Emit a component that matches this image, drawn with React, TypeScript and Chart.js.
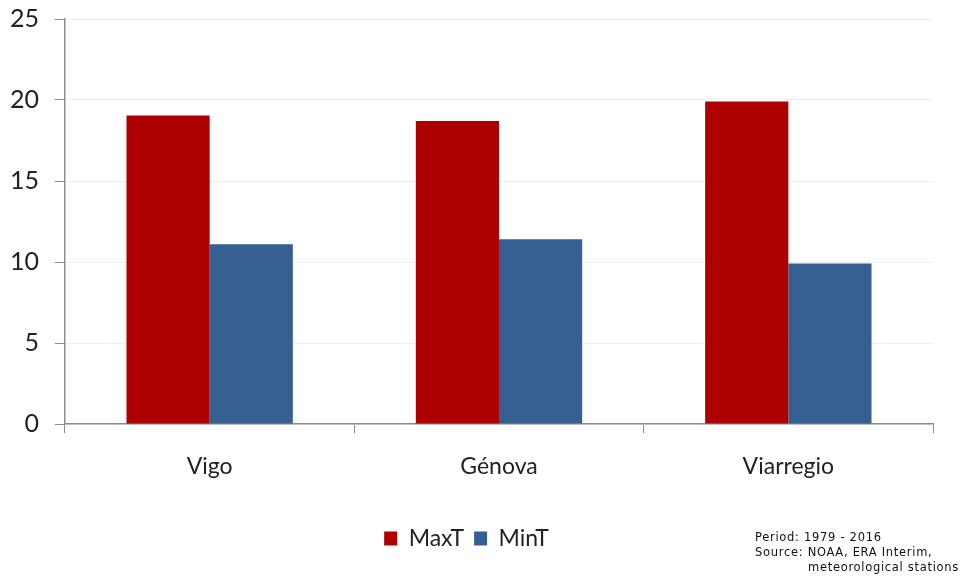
import React, { useEffect, useRef } from "react";
import { Chart, registerables } from "chart.js";

Chart.register(...registerables);

const categories = ["Vigo", "Génova", "Viarregio"];
const maxT = [19.05, 18.7, 19.9];
const minT = [11.1, 11.4, 9.9];
const seriesNames = ["MaxT", "MinT"];
const yTicks = [0, 5, 10, 15, 20, 25];
const sourceLines = ["Period: 1979 - 2016", "Source: NOAA, ERA Interim,", "meteorological stations"];

export default function App() {
  const ref = useRef<HTMLCanvasElement | null>(null);

  useEffect(() => {
    if (!ref.current) return;
    const font = "Lato, 'Open Sans', sans-serif";
    const chart = new Chart(ref.current, {
      type: "bar",
      data: {
        labels: categories,
        datasets: [
          { label: seriesNames[0], data: maxT, backgroundColor: "#ad0000", borderWidth: 0 },
          { label: seriesNames[1], data: minT, backgroundColor: "#376092", borderWidth: 0 },
        ],
      },
      options: {
        responsive: false,
        animation: false,
        layout: { padding: { top: 19, right: 28, left: 0, bottom: 16 } },
        datasets: { bar: { categoryPercentage: 0.575, barPercentage: 1 } },
        plugins: {
          tooltip: { enabled: false },
          legend: {
            position: "bottom",
            labels: {
              font: { family: font, size: 23 },
              color: "#222222",
              boxWidth: 13,
              boxHeight: 14,
              padding: 10,
            },
          },
        },
        scales: {
          x: {
            afterFit: (s: any) => { s.height = 93; s.paddingLeft = 0; s.paddingRight = 0; },
            grid: { drawOnChartArea: false, drawTicks: true, tickLength: 9, tickColor: "#8c8c8c", offset: true },
            border: { color: "#8c8c8c", width: 1.5 },
            ticks: { font: { family: font, size: 23 }, color: "#222222", padding: 20 },
          },
          y: {
            min: 0,
            max: 25,
            afterFit: (s: any) => { s.width = 65; s.paddingTop = 0; s.paddingBottom = 0; },
            afterBuildTicks: (s: any) => { s.ticks = yTicks.map((v) => ({ value: v })); },
            grid: { color: "#efefef", tickLength: 10, tickColor: "#8c8c8c" },
            border: { color: "#8c8c8c", width: 1.5 },
            ticks: { font: { family: font, size: 25 }, color: "#222222", padding: 16 },
          },
        },
      },
    });
    return () => chart.destroy();
  }, []);

  return (
    <div style={{ position: "fixed", left: 0, top: 0, width: 961, height: 576, background: "#fff" }}>
      <canvas ref={ref} width={961} height={576} style={{ width: 961, height: 576 }} />
      <div
        style={{
          position: "absolute",
          left: 755,
          top: 530,
          fontFamily: "'DejaVu Sans', Verdana, sans-serif",
          fontSize: 11.5,
          letterSpacing: "0.7px",
          lineHeight: "15px",
          color: "#111",
          whiteSpace: "pre",
        }}
      >
        <div>{sourceLines[0]}</div>
        <div>{sourceLines[1]}</div>
        <div style={{ paddingLeft: 53 }}>{sourceLines[2]}</div>
      </div>
    </div>
  );
}
